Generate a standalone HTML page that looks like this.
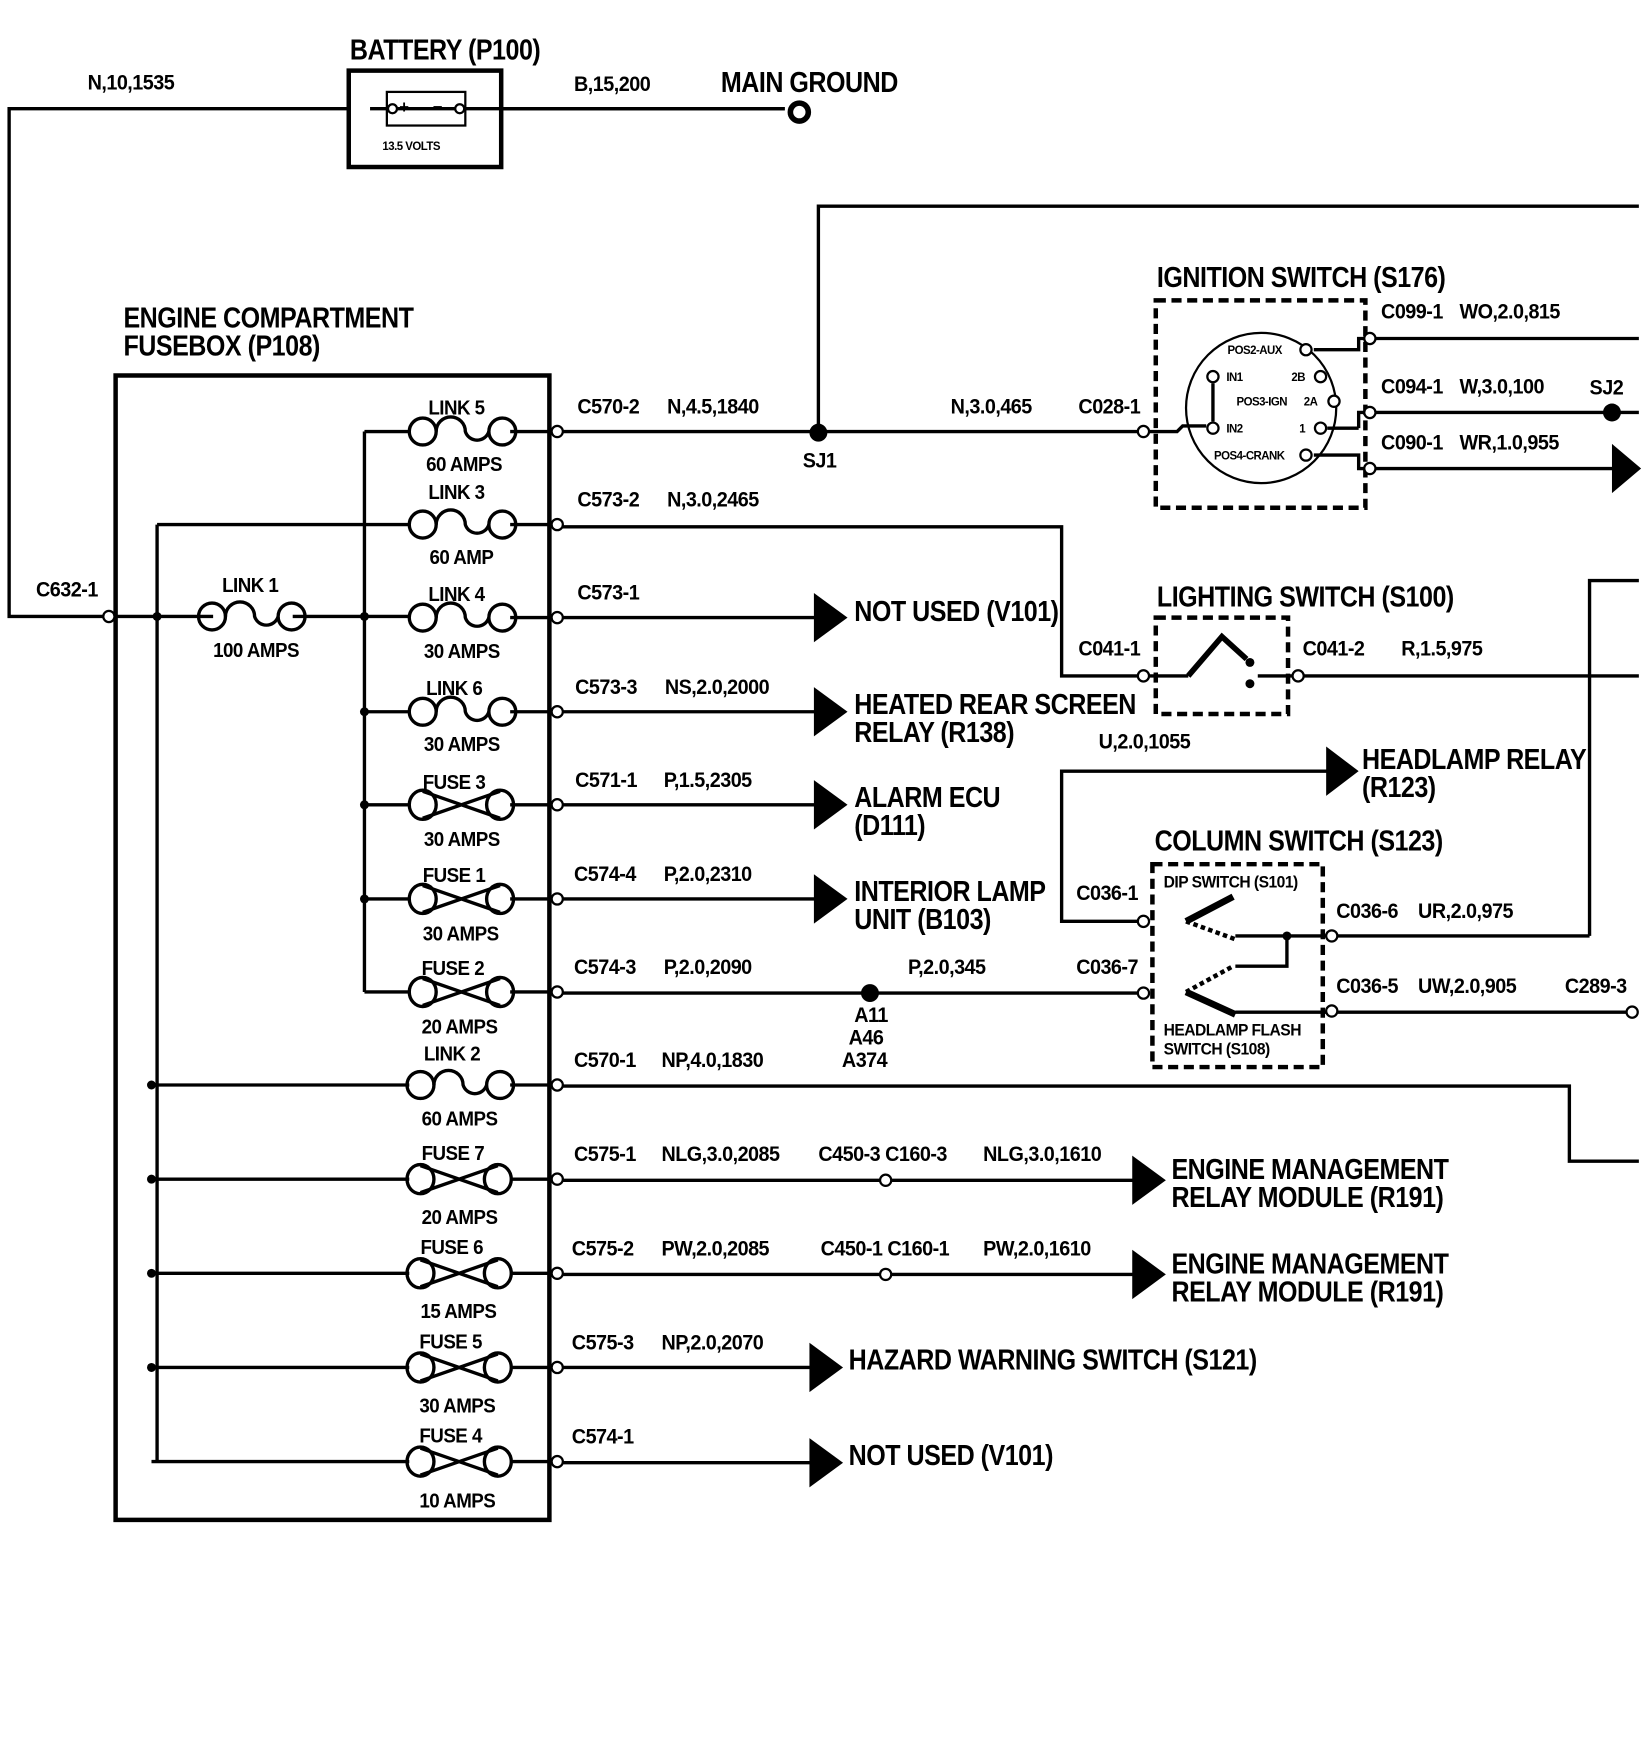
<!DOCTYPE html>
<html><head><meta charset="utf-8"><style>
html,body{margin:0;padding:0;background:#fff;}
svg{display:block;}
text{font-family:"Liberation Sans Narrow","Liberation Sans",sans-serif;font-weight:bold;fill:#000;letter-spacing:-0.5px;transform-box:fill-box;transform-origin:0 50%;transform:scaleX(0.93);}
.s{font-size:19px;}
.m{font-size:18px;}
.l text,text.l{font-size:26px;transform:scaleX(0.86);}
.t{font-size:11px;}
</style></head><body>
<svg width="1648" height="1762" viewBox="0 0 1470 1572" xmlns="http://www.w3.org/2000/svg">
<defs>
<g id="lnk" fill="none" stroke="#000" stroke-width="3">
<circle cx="-33" cy="0" r="12"/><circle cx="38" cy="0" r="12"/>
<path d="M-21,0 A13,13 0 0 1 5,0 A11,11 0 0 0 26,0"/>
</g>
<g id="fus" fill="none" stroke="#000" stroke-width="3">
<ellipse cx="-33" cy="0" rx="12" ry="13"/><ellipse cx="36" cy="0" rx="12" ry="13"/>
<path d="M-33,-12 L36,12 M-33,12 L36,-12"/>
</g>
</defs>
<g stroke="#000" stroke-width="3" fill="none">
<polyline points="97,550 8,550 8,97 700,97"/>
<rect x="311" y="63" width="136" height="86" stroke-width="4" fill="#fff"/>
<rect x="345" y="82" width="70" height="30" stroke-width="2"/>
<line x1="330" y1="97" x2="700" y2="97"/>
<circle cx="713" cy="100" r="8" stroke-width="5"/>
<polyline points="730,386 730,184 1462,184"/>
<rect x="103" y="335" width="387" height="1021" stroke-width="4"/>
<line x1="140" y1="468" x2="140" y2="1304"/>
<line x1="325" y1="385" x2="325" y2="885"/>
<line x1="97" y1="550" x2="190" y2="550"/>
<line x1="261" y1="550" x2="365" y2="550"/>
</g>
<use href="#lnk" x="222" y="550"/>
<g stroke="#000" stroke-width="3" fill="none">
<line x1="325" y1="385" x2="365" y2="385"/>
<line x1="140" y1="468" x2="365" y2="468"/>
<line x1="325" y1="635" x2="365" y2="635"/>
<line x1="325" y1="718" x2="365" y2="718"/>
<line x1="325" y1="802" x2="365" y2="802"/>
<line x1="325" y1="885" x2="365" y2="885"/>
<line x1="135" y1="968" x2="365" y2="968"/>
<line x1="135" y1="1052" x2="365" y2="1052"/>
<line x1="135" y1="1136" x2="365" y2="1136"/>
<line x1="135" y1="1220" x2="365" y2="1220"/>
<line x1="135" y1="1304" x2="365" y2="1304"/>
<line x1="455" y1="385" x2="497" y2="385"/><line x1="455" y1="468" x2="497" y2="468"/>
<line x1="455" y1="551" x2="497" y2="551"/><line x1="455" y1="635" x2="497" y2="635"/>
<line x1="455" y1="718" x2="497" y2="718"/><line x1="455" y1="802" x2="497" y2="802"/>
<line x1="455" y1="885" x2="497" y2="885"/><line x1="455" y1="968" x2="497" y2="968"/>
<line x1="455" y1="1052" x2="497" y2="1052"/><line x1="455" y1="1136" x2="497" y2="1136"/>
<line x1="455" y1="1220" x2="497" y2="1220"/><line x1="455" y1="1304" x2="497" y2="1304"/>
<line x1="497" y1="385" x2="1020" y2="385"/>
<polyline points="497,470 947,470 947,603 1020,603"/>
<line x1="497" y1="551" x2="728" y2="551"/>
<line x1="497" y1="635" x2="728" y2="635"/>
<line x1="497" y1="718" x2="728" y2="718"/>
<line x1="497" y1="802" x2="728" y2="802"/>
<line x1="497" y1="886" x2="1020" y2="886"/>
<polyline points="497,969 1400,969 1400,1036 1462,1036"/>
<line x1="497" y1="1053" x2="1012" y2="1053"/>
<line x1="497" y1="1137" x2="1012" y2="1137"/>
<line x1="497" y1="1220" x2="724" y2="1220"/>
<line x1="497" y1="1305" x2="724" y2="1305"/>
<rect x="1031" y="268" width="187" height="185" stroke-dasharray="9,5" stroke-width="4"/>
<circle cx="1125" cy="364" r="67" stroke-width="2"/>
<polyline points="1172,312 1212,312 1212,302 1462,302"/>
<line x1="1184" y1="382" x2="1212" y2="382"/><polyline points="1212,382 1212,368 1462,368"/>
<polyline points="1172,406 1212,406 1212,418 1440,418"/>
<line x1="1082" y1="342" x2="1082" y2="376"/>
<polyline points="1020,385 1050,385 1055,380 1076,380"/>
<rect x="1031" y="551" width="118" height="86" stroke-dasharray="9,5" stroke-width="4"/>
<line x1="1020" y1="603" x2="1060" y2="603"/>
<polyline points="1060,603 1090,568 1112,588" stroke-width="5"/>
<line x1="1122" y1="603" x2="1462" y2="603"/>
<polyline points="1418,835 1418,518 1462,518"/>
<polyline points="1020,822 947,822 947,688 1185,688"/>
<rect x="1028" y="771" width="152" height="181" stroke-dasharray="9,5" stroke-width="4"/>
<line x1="1058" y1="822" x2="1100" y2="800" stroke-width="6"/>
<line x1="1058" y1="822" x2="1102" y2="838" stroke-dasharray="4,3" stroke-width="4"/>
<line x1="1102" y1="835" x2="1418" y2="835"/>
<polyline points="1148,835 1148,862 1102,862"/>
<line x1="1058" y1="885" x2="1100" y2="862" stroke-dasharray="4,3" stroke-width="4"/>
<line x1="1058" y1="885" x2="1102" y2="905" stroke-width="6"/>
<line x1="1102" y1="903" x2="1452" y2="903"/>
</g>
<use href="#lnk" x="410" y="385"/><use href="#lnk" x="410" y="468"/>
<use href="#lnk" x="410" y="551"/><use href="#lnk" x="410" y="635"/>
<use href="#fus" x="410" y="718"/><use href="#fus" x="410" y="802"/>
<use href="#fus" x="410" y="885"/><use href="#lnk" x="408" y="968"/>
<use href="#fus" x="408" y="1052"/><use href="#fus" x="408" y="1136"/>
<use href="#fus" x="408" y="1220"/><use href="#fus" x="408" y="1304"/>
<g fill="#000">
<circle cx="140" cy="550" r="4"/><circle cx="325" cy="550" r="4"/><circle cx="325" cy="635" r="4"/>
<circle cx="325" cy="718" r="4"/><circle cx="325" cy="802" r="4"/>
<circle cx="135" cy="968" r="4"/><circle cx="135" cy="1052" r="4"/><circle cx="135" cy="1136" r="4"/><circle cx="135" cy="1220" r="4"/>
<circle cx="730" cy="386" r="8"/><circle cx="776" cy="886" r="8"/><circle cx="1438" cy="368" r="8"/>
<circle cx="1148" cy="835" r="4"/>
<polygon points="726,529 726,573 756,551"/><polygon points="726,613 726,657 756,635"/>
<polygon points="726,696 726,740 756,718"/><polygon points="726,780 726,824 756,802"/>
<polygon points="1010,1031 1010,1075 1040,1053"/><polygon points="1010,1115 1010,1159 1040,1137"/>
<polygon points="722,1198 722,1242 752,1220"/><polygon points="722,1283 722,1327 752,1305"/>
<polygon points="1183,666 1183,710 1212,688"/><polygon points="1438,396 1438,440 1464,418"/>
<circle cx="1115" cy="591" r="4"/><circle cx="1115" cy="610" r="4"/>
</g>
<g fill="#fff" stroke="#000" stroke-width="2">
<circle cx="497" cy="385" r="5"/><circle cx="497" cy="468" r="5"/><circle cx="497" cy="551" r="5"/>
<circle cx="497" cy="635" r="5"/><circle cx="497" cy="718" r="5"/><circle cx="497" cy="802" r="5"/>
<circle cx="497" cy="885" r="5"/><circle cx="497" cy="968" r="5"/><circle cx="497" cy="1052" r="5"/>
<circle cx="497" cy="1136" r="5"/><circle cx="497" cy="1220" r="5"/><circle cx="497" cy="1304" r="5"/>
<circle cx="97" cy="550" r="5"/><circle cx="790" cy="1053" r="5"/><circle cx="790" cy="1137" r="5"/>
<circle cx="1020" cy="385" r="5"/><circle cx="1020" cy="603" r="5"/><circle cx="1020" cy="822" r="5"/><circle cx="1020" cy="886" r="5"/>
<circle cx="1222" cy="302" r="5"/><circle cx="1222" cy="368" r="5"/><circle cx="1222" cy="418" r="5"/>
<circle cx="1158" cy="603" r="5"/><circle cx="1188" cy="835" r="5"/><circle cx="1188" cy="902" r="5"/><circle cx="1456" cy="903" r="5"/>
<circle cx="350" cy="97" r="4"/><circle cx="410" cy="97" r="4"/>
<circle cx="1165" cy="312" r="5"/><circle cx="1082" cy="336" r="5"/><circle cx="1178" cy="336" r="5"/>
<circle cx="1190" cy="358" r="5"/><circle cx="1082" cy="382" r="5"/><circle cx="1178" cy="382" r="5"/><circle cx="1165" cy="406" r="5"/>
</g>
<text class="l" x="312" y="53">BATTERY (P100)</text>
<text class="s" x="78" y="80">N,10,1535</text>
<text class="s" x="512" y="81">B,15,200</text>
<text class="l" x="643" y="82">MAIN GROUND</text>
<text x="356" y="101" style="font-size:16px">+</text><text x="386" y="101" style="font-size:16px">−</text>
<text class="t" x="341" y="134">13.5 VOLTS</text>
<text class="l" x="110" y="292">ENGINE COMPARTMENT</text>
<text class="l" x="110" y="317">FUSEBOX (P108)</text>
<text class="s" x="32" y="532">C632-1</text>
<text class="m" x="198" y="528">LINK 1</text><text class="m" x="190" y="586">100 AMPS</text>
<g class="m" style="font-size:18px">
<text x="382" y="370">LINK 5</text><text x="380" y="420">60 AMPS</text>
<text x="382" y="445">LINK 3</text><text x="383" y="503">60 AMP</text>
<text x="382" y="536">LINK 4</text><text x="378" y="587">30 AMPS</text>
<text x="380" y="620">LINK 6</text><text x="378" y="670">30 AMPS</text>
<text x="377" y="704">FUSE 3</text><text x="378" y="755">30 AMPS</text>
<text x="377" y="787">FUSE 1</text><text x="377" y="839">30 AMPS</text>
<text x="376" y="870">FUSE 2</text><text x="376" y="922">20 AMPS</text>
<text x="378" y="946">LINK 2</text><text x="376" y="1004">60 AMPS</text>
<text x="376" y="1035">FUSE 7</text><text x="376" y="1092">20 AMPS</text>
<text x="375" y="1119">FUSE 6</text><text x="375" y="1176">15 AMPS</text>
<text x="374" y="1203">FUSE 5</text><text x="374" y="1260">30 AMPS</text>
<text x="374" y="1287">FUSE 4</text><text x="374" y="1345">10 AMPS</text>
</g>
<g class="s">
<text x="515" y="369">C570-2</text><text x="595" y="369">N,4.5,1840</text>
<text x="716" y="417">SJ1</text><text x="848" y="369">N,3.0,465</text><text x="962" y="369">C028-1</text>
<text x="515" y="452">C573-2</text><text x="595" y="452">N,3.0,2465</text>
<text x="515" y="535">C573-1</text>
<text x="513" y="619">C573-3</text><text x="593" y="619">NS,2.0,2000</text>
<text x="513" y="702">C571-1</text><text x="592" y="702">P,1.5,2305</text>
<text x="512" y="786">C574-4</text><text x="592" y="786">P,2.0,2310</text>
<text x="512" y="869">C574-3</text><text x="592" y="869">P,2.0,2090</text>
<text x="810" y="869">P,2.0,345</text><text x="960" y="869">C036-7</text>
<text x="762" y="912">A11</text><text x="757" y="932">A46</text><text x="751" y="952">A374</text>
<text x="512" y="952">C570-1</text><text x="590" y="952">NP,4.0,1830</text>
<text x="512" y="1036">C575-1</text><text x="590" y="1036">NLG,3.0,2085</text><text x="730" y="1036">C450-3 C160-3</text><text x="877" y="1036">NLG,3.0,1610</text>
<text x="510" y="1120">C575-2</text><text x="590" y="1120">PW,2.0,2085</text><text x="732" y="1120">C450-1 C160-1</text><text x="877" y="1120">PW,2.0,1610</text>
<text x="510" y="1204">C575-3</text><text x="590" y="1204">NP,2.0,2070</text>
<text x="510" y="1288">C574-1</text>
<text x="1232" y="284">C099-1</text><text x="1302" y="284">WO,2.0,815</text>
<text x="1232" y="351">C094-1</text><text x="1302" y="351">W,3.0,100</text><text x="1418" y="352">SJ2</text>
<text x="1232" y="401">C090-1</text><text x="1302" y="401">WR,1.0,955</text>
<text x="962" y="585">C041-1</text><text x="1162" y="585">C041-2</text><text x="1250" y="585">R,1.5,975</text>
<text x="980" y="668">U,2.0,1055</text>
<text x="960" y="803">C036-1</text>
<text x="1192" y="819">C036-6</text><text x="1265" y="819">UR,2.0,975</text>
<text x="1192" y="886">C036-5</text><text x="1265" y="886">UW,2.0,905</text><text x="1396" y="886">C289-3</text>
</g>
<g class="l">
<text x="762" y="554">NOT USED (V101)</text>
<text x="762" y="637">HEATED REAR SCREEN</text><text x="762" y="662">RELAY (R138)</text>
<text x="762" y="720">ALARM ECU</text><text x="762" y="745">(D111)</text>
<text x="762" y="804">INTERIOR LAMP</text><text x="762" y="829">UNIT (B103)</text>
<text x="1045" y="1052">ENGINE MANAGEMENT</text><text x="1045" y="1077">RELAY MODULE (R191)</text>
<text x="1045" y="1136">ENGINE MANAGEMENT</text><text x="1045" y="1161">RELAY MODULE (R191)</text>
<text x="757" y="1222">HAZARD WARNING SWITCH (S121)</text>
<text x="757" y="1307">NOT USED (V101)</text>
<text x="1032" y="256">IGNITION SWITCH (S176)</text>
<text x="1032" y="541">LIGHTING SWITCH (S100)</text>
<text x="1215" y="686">HEADLAMP RELAY</text><text x="1215" y="711">(R123)</text>
<text x="1030" y="759">COLUMN SWITCH (S123)</text>
</g>
<text class="t" x="1095" y="316">POS2-AUX</text>
<text class="t" x="1094" y="340">IN1</text><text class="t" x="1152" y="340">2B</text>
<text class="t" x="1103" y="362">POS3-IGN</text><text class="t" x="1163" y="362">2A</text>
<text class="t" x="1094" y="386">IN2</text><text class="t" x="1159" y="386">1</text>
<text class="t" x="1083" y="410">POS4-CRANK</text>
<text style="font-size:15px" x="1038" y="792">DIP SWITCH (S101)</text>
<text style="font-size:15px" x="1038" y="924">HEADLAMP FLASH</text>
<text style="font-size:15px" x="1038" y="941">SWITCH (S108)</text>
</svg>
</body></html>
